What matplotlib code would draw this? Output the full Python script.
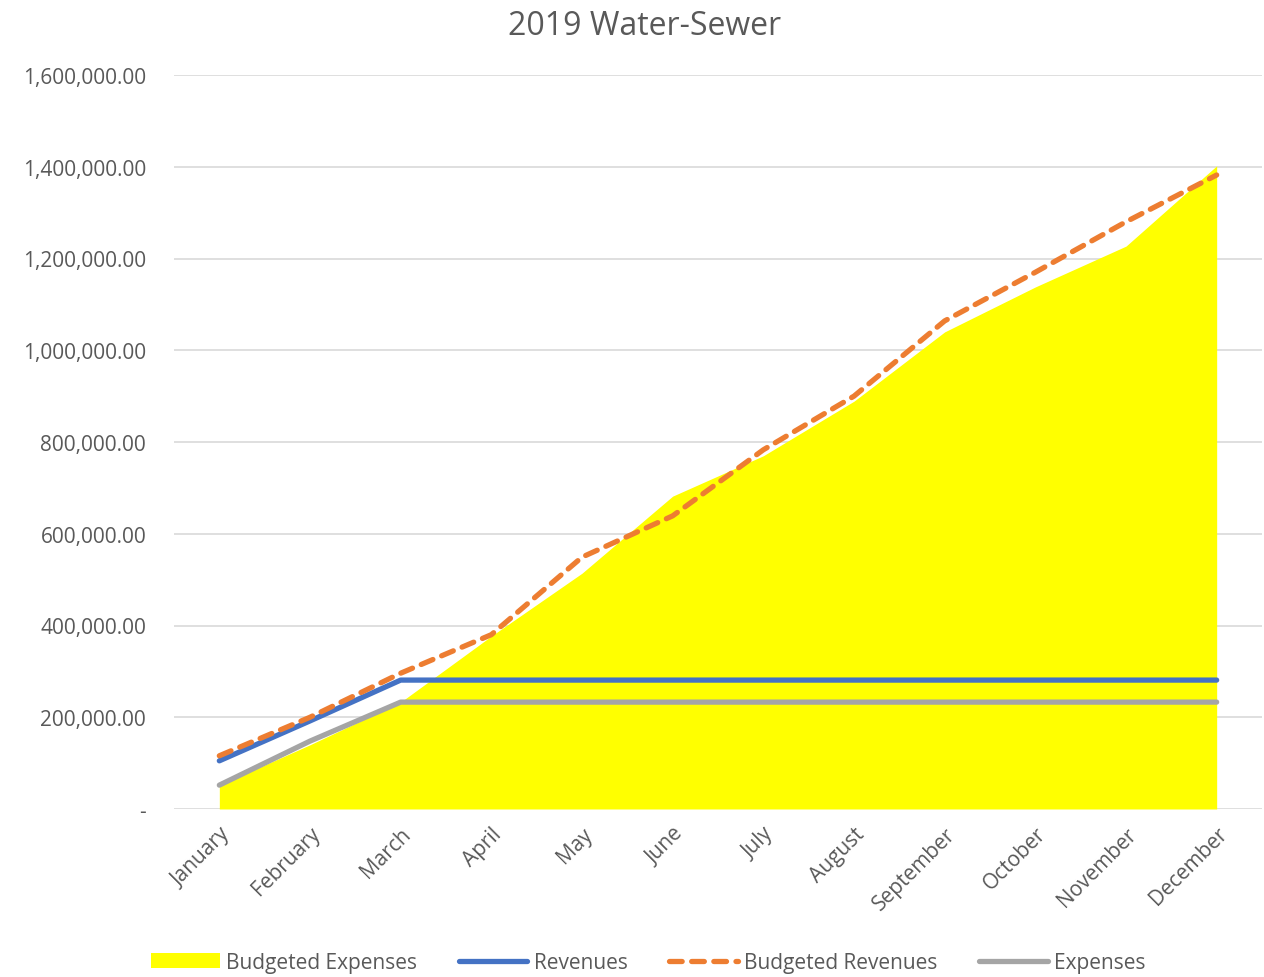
import matplotlib.pyplot as plt
import numpy as np

# Monthly data
months = ["January", "February", "March", "April", "May", "June", "July",
          "August", "September", "October", "November", "December"]
budgeted_expenses = [52000, 140000, 233000, 377000, 514000, 682000, 770000,
                     889000, 1040000, 1138000, 1227000, 1402000]
revenues = [105000, 192000, 281000, 281000, 281000, 281000, 281000,
            281000, 281000, 281000, 281000, 281000]
budgeted_revenues = [116000, 200000, 296000, 380000, 549000, 639000, 783000,
                     900000, 1064000, 1170000, 1280000, 1382000]
expenses = [52000, 148000, 233000, 233000, 233000, 233000, 233000,
            233000, 233000, 233000, 233000, 233000]

plt.rcParams['font.family'] = ['Open Sans', 'DejaVu Sans']
txt = '#595959'
fs = 15

fig = plt.figure(figsize=(12.64, 9.78), dpi=100)
ax = fig.add_axes([174 / 1264, 1 - 810 / 978, (1262 - 174) / 1264, (810 - 76) / 978])

x = np.arange(len(months))
ax.fill_between(x, budgeted_expenses, 0, color='#FFFF00', lw=0,
                label='Budgeted Expenses', zorder=2)
ax.plot(x, revenues, color='#4472C4', lw=3.8, solid_capstyle='round',
        label='Revenues', zorder=3)
ax.plot(x, budgeted_revenues, color='#ED7D31', lw=3.8, ls=(0, (2.4, 1.8)),
        dash_capstyle='round', label='Budgeted Revenues', zorder=4)
ax.plot(x, expenses, color='#A5A5A5', lw=3.8, solid_capstyle='round',
        label='Expenses', zorder=3)

ax.set_xlim(-0.5, 11.5)
ax.set_ylim(0, 1600000)
yt = np.arange(0, 1600001, 200000)
ax.set_yticks(yt)
ax.set_yticklabels(['-'] + [f"{v:,.2f}" for v in yt[1:]], color=txt, fontsize=fs)
ax.set_xticks(x)
ax.set_xticklabels(months, rotation=45, ha='right', rotation_mode='anchor',
                   color=txt, fontsize=fs)
ax.tick_params(length=0, pad=10)
ax.tick_params(axis='y', pad=20)
ax.grid(axis='y', color='#D9D9D9', lw=1.2, zorder=0)
for s in ax.spines.values():
    s.set_visible(False)

fig.suptitle('2019 Water-Sewer', color=txt, fontsize=23, x=0.51, y=0.99, va='top')

fig.legend(loc='lower center', bbox_to_anchor=(0.513, -0.015), ncol=4, frameon=False,
           fontsize=fs, labelcolor=txt, handlelength=3.3, columnspacing=2.0,
           handletextpad=0.3)

fig.savefig('out.png', dpi=100)
